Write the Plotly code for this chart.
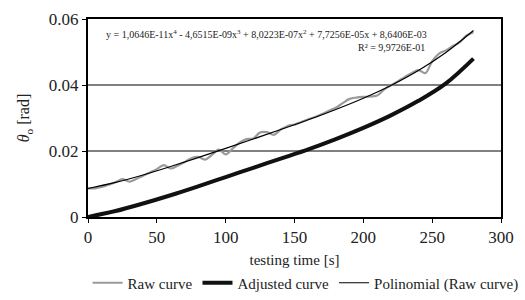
import plotly.graph_objects as go

# ---- data ----
raw_t = list(range(0, 285, 5))
raw_v = [0.0087, 0.0087, 0.0091, 0.0098, 0.0105, 0.0115, 0.0107, 0.0115, 0.0125, 0.0135,
         0.0145, 0.0157, 0.0147, 0.0155, 0.0166, 0.0178, 0.0182, 0.0174, 0.0188, 0.0204,
         0.0190, 0.0207, 0.0225, 0.0236, 0.0238, 0.0256, 0.0257, 0.0249, 0.0265, 0.0276,
         0.0280, 0.0288, 0.0296, 0.0303, 0.0312, 0.0322, 0.0331, 0.0345, 0.0358, 0.0362,
         0.0364, 0.0365, 0.0368, 0.0386, 0.0399, 0.0411, 0.0424, 0.0436, 0.0445, 0.0436,
         0.0472, 0.0495, 0.0505, 0.0518, 0.0530, 0.0550, 0.0560]

adj_t = [0, 20, 40, 60, 80, 100, 120, 140, 160, 180, 200, 220, 240, 260, 280]
adj_v = [0.0, 0.0018, 0.0041, 0.0066, 0.0093, 0.0121, 0.0149, 0.0177, 0.0205, 0.0236,
         0.0270, 0.0308, 0.0352, 0.0405, 0.0480]

poly_t = [0, 20, 40, 60, 80, 100, 120, 140, 160, 180, 200, 220, 240, 260, 280]
poly_v = [0.00864, 0.01047, 0.01274, 0.01530, 0.01801, 0.02080, 0.02363, 0.02651,
          0.02946, 0.03259, 0.03600, 0.03987, 0.04441, 0.04985, 0.05649]

x_ticks = [0, 50, 100, 150, 200, 250, 300]
y_ticks = [0, 0.02, 0.04, 0.06]
y_tick_text = ["0", "0.02", "0.04", "0.06"]

equation_text = ("y = 1,0646E-11x<sup>4</sup> - 4,6515E-09x<sup>3</sup> + 8,0223E-07x<sup>2</sup>"
                 " + 7,7256E-05x + 8,6406E-03")
r2_text = "R² = 9,9726E-01"

FONT = "Liberation Serif"
L, R, T, B = 88, 24, 19, 83
W, H = 525, 300
PW, PH = W - L - R, H - T - B

fig = go.Figure()
fig.add_trace(go.Scatter(x=raw_t, y=raw_v, mode="lines", name="Raw curve",
                         line=dict(color="#9a9a9a", width=2.2, shape="spline")))
fig.add_trace(go.Scatter(x=adj_t, y=adj_v, mode="lines", name="Adjusted curve",
                         line=dict(color="#111111", width=4, shape="spline")))
fig.add_trace(go.Scatter(x=poly_t, y=poly_v, mode="lines", name="Polinomial (Raw curve)",
                         line=dict(color="#000000", width=1.2, shape="spline")))

fig.update_layout(
    width=W, height=H,
    margin=dict(l=L, r=R, t=T, b=B, autoexpand=False),
    paper_bgcolor="white", plot_bgcolor="white",
    font=dict(family=FONT, color="#222222", size=15),
    legend=dict(orientation="h", x=-0.001, xanchor="left",
                y=(H - B - 283) / PH, yanchor="middle",
                font=dict(size=15, family=FONT), itemwidth=30,
                tracegroupgap=0, bgcolor="rgba(0,0,0,0)"),
    xaxis=dict(range=[0, 300], tickvals=x_ticks, ticks="outside", ticklen=4,
               tickcolor="#000", showline=True, linecolor="#000", linewidth=1.5,
               mirror=True, showgrid=False, zeroline=False,
               tickfont=dict(size=17, family=FONT),
               title=dict(text="testing time [s]", font=dict(size=15, family=FONT), standoff=8)),
    yaxis=dict(range=[0, 0.06], tickvals=y_ticks, ticktext=y_tick_text, ticks="outside",
               ticklen=4, tickcolor="#000", showline=True, linecolor="#000", linewidth=2,
               mirror=True, showgrid=True, gridcolor="#808080", gridwidth=1.5,
               zeroline=False, tickfont=dict(size=17, family=FONT),
               title=dict(text="<i>θ</i><sub>o</sub> [rad]", font=dict(size=16, family=FONT),
                          standoff=15)),
)
fig.add_annotation(x=(266 - L) / PW, y=(H - B - 34) / PH, xref="paper", yref="paper",
                   showarrow=False, xanchor="center", yanchor="middle",
                   text=equation_text, font=dict(size=10, family=FONT, color="#222"))
fig.add_annotation(x=(391 - L) / PW, y=(H - B - 47) / PH, xref="paper", yref="paper",
                   showarrow=False, xanchor="center", yanchor="middle",
                   text=r2_text, font=dict(size=10, family=FONT, color="#222"))

fig.write_html("out.html", config={"displayModeBar": False},
               post_script="document.body.style.margin='0';document.body.style.overflow='hidden';")
